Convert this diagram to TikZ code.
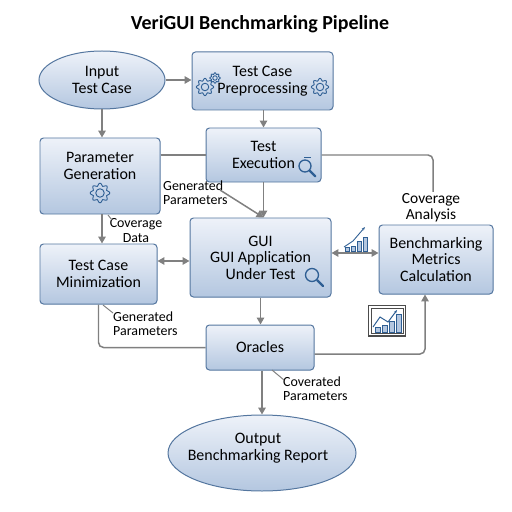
\documentclass[tikz,border=0pt]{standalone}
\usepackage{fontspec}
\setmainfont{Carlito}
\usetikzlibrary{arrows.meta,shapes.geometric}
\definecolor{boxedge}{HTML}{54769F}
\definecolor{boxtop}{HTML}{EEF2F9}
\definecolor{boxbottom}{HTML}{B4C7E0}
\definecolor{wire}{HTML}{808080}
\definecolor{iconblue}{HTML}{2F5F94}
\tikzset{
  block/.style={draw=boxedge, line width=1pt, rounded corners=3.5pt, top color=boxtop, bottom color=boxbottom,
    align=center, inner sep=0pt, font=\fontsize{16}{16.5}\selectfont, text=black},
  terminal/.style={block, ellipse, rounded corners=0pt},
  wirearrow/.style={draw=wire, line width=1.5pt, -{Triangle[length=7pt,width=7.5pt]}},
  wireboth/.style={draw=wire, line width=1.5pt, {Triangle[length=7pt,width=7.5pt]}-{Triangle[length=7pt,width=7.5pt]}},
  wireplain/.style={draw=wire, line width=1.5pt, rounded corners=5pt},
  leader/.style={draw=wire, line width=1pt},
  tag/.style={align=left, anchor=west, inner sep=0pt, font=\fontsize{14}{14.5}\selectfont},
  iconline/.style={draw=iconblue, line width=0.9pt},
  barfill/.style={draw=iconblue, line width=0.6pt, fill=boxbottom},
  pics/gearicon/.style={code={
    \draw[iconline] plot[smooth cycle, samples=48, domain=0:352.5] (\x:{#1*(1+0.16*cos(8*\x))});
    \draw[iconline] (0,0) circle ({0.5*#1});
  }},
  pics/lensicon/.style={code={
    \draw[iconline, line width=1.3pt] (0,0) circle (#1);
    \draw[iconblue, line width=2.4pt, line cap=round] (45:#1) ++(45:1) -- ++(45:#1*1.25);
  }}
}
\begin{document}
\begin{tikzpicture}[x=1bp, y=-1bp]
\useasboundingbox (0,0) rectangle (512,512);

\node[font=\fontsize{20}{24}\bfseries] (title) at (260,24) {VeriGUI Benchmarking Pipeline};

\node[terminal, minimum width=126bp, minimum height=58bp] (input) at (102,80) {Input\\Test Case};
\node[block, minimum width=141bp, minimum height=58bp] (preprocess) at (262.5,81) {Test Case\\Preprocessing};
\node[block, minimum width=115bp, minimum height=54bp] (execution) at (263.5,155) {Test\\Execution};
\node[block, minimum width=120bp, minimum height=76bp] (parameter) at (100,176) {Parameter\\Generation\\[4pt]\mbox{}};
\node[block, minimum width=141bp, minimum height=79bp] (gui) at (260.5,257.5) {GUI\\GUI Application\\Under Test};
\node[block, minimum width=117bp, minimum height=60bp] (minimize) at (98.5,274) {Test Case\\Minimization};
\node[block, minimum width=114bp, minimum height=69bp] (metrics) at (436,259.5) {Benchmarking\\Metrics\\Calculation};
\node[block, minimum width=108bp, minimum height=45bp] (oracles) at (260,347.5) {Oracles};
\node[terminal, inner xsep=-8pt, minimum width=188bp, minimum height=76bp] (output) at (262,453) {Output\kern8pt\\Benchmarking Report\kern8pt\\[-4pt]\mbox{}};

\node[tag] (genlabel) at (163,192.5) {Generated\\Parameters};
\node[tag, align=center, anchor=center] (coverdata) at (136,230.5) {Coverage\\Data};
\node[tag] (genlabeltwo) at (113,323.5) {Generated\\Parameters};
\node[tag] (covlabel) at (283,388.5) {Coverated\\Parameters};
\node[align=center, inner sep=0pt, font=\fontsize{15.5}{16}\selectfont] (analysis) at (431,207.5) {Coverage\\Analysis};

\coordinate (genstart) at (220,190);
\coordinate (covertick) at (108,215);
\coordinate (gentick) at (103,305);
\coordinate (coveratedtick) at (272,370);

\draw[wirearrow] (input.east) -- (preprocess.west |- input.east);
\draw[wirearrow] (input.south) -- (parameter.north -| input.south);
\draw[wirearrow] (preprocess.south -| execution.north) -- (execution.north);
\draw[wireplain] (parameter.east |- execution.west) -- (execution.west);
\draw[wirearrow] (execution.south) -- (gui.north -| execution.south);
\draw[wirearrow] (genstart) -- (gui.north -| execution.south);
\draw[wireplain] (execution.east) -| (433,192);
\draw[wirearrow] (parameter.south -| input.south) -- (minimize.north -| input.south);
\draw[wireboth] (minimize.east |- 0,261) -- (gui.west |- 0,261);
\draw[wireboth] (gui.east |- 0,253) -- (metrics.west |- 0,253);
\draw[wirearrow] (gui.south) -- (oracles.north -| gui.south);
\draw[wireplain] (minimize.south) |- (oracles.west);
\draw[wirearrow, rounded corners=5pt] (oracles.east |- 0,354) -| (metrics.south -| 425,0);
\draw[wirearrow] (oracles.south -| output.north) -- (output.north);

\draw[leader] (covertick) -- (112,220);
\draw[leader] (gentick) -- (113,313);
\draw[leader] (coveratedtick) -- (284,380);

\pic at (205,87) {gearicon=7.5};
\pic at (215,78) {gearicon=4.5};
\pic at (320,87) {gearicon=7.5};
\pic at (100,193) {gearicon=8.5};

\pic at (305,166) {lensicon=6};
\draw[iconline] (304,157) -- (311,157);
\pic at (312,275) {lensicon=6.5};

\foreach \xa/\xb/\ytop in {345/349/247, 351/355/246, 357/361/241, 363/367/237}
  \draw[barfill] (\xa,\ytop) rectangle (\xb,251);
\draw[iconline, -{Stealth[length=3.5pt]}] (344,247) -- (353,241) -- (365,227);

\draw[draw=black!70, line width=1.2pt, fill=white] (368.5,305.5) rectangle (405.5,336);
\draw[draw=black!70, line width=0.5pt] (371,308) rectangle (403,333.5);
\foreach \xa/\xb/\ytop in {375/380/327, 382/387/325, 389/394/321, 396/401/314}
  \draw[barfill] (\xa,\ytop) rectangle (\xb,332);
\draw[iconline, line width=1pt, -{Stealth[length=3.5pt]}] (373,327) -- (380,317) -- (388,322) -- (397,310);
\end{tikzpicture}
\end{document}
